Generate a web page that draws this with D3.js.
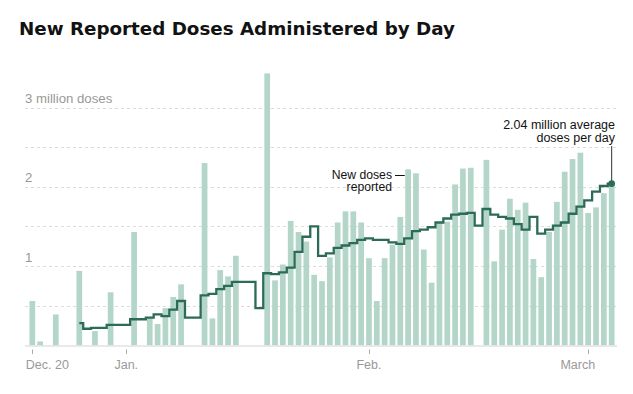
<!DOCTYPE html>
<html>
<head>
<meta charset="utf-8">
<script src="https://cdn.jsdelivr.net/npm/d3@7"></script>
<style>
  html, body { margin: 0; padding: 0; background: #fff; }
  svg { display: block; }
</style>
</head>
<body>
<script>
// ---------------- DATA ----------------
const startDay = "2020-12-20";
const endDay = "2021-03-04";

// New reported doses per day (millions); null = no report that day
const newDoses = [
  0.56, 0.05, null, 0.39, null, null, 0.94, null, 0.18, null, 0.67, null, null,   // Dec 20 - Jan 1
  1.43, null, 0.34, 0.27, 0.47, 0.61, 0.77, null, null, 2.30, 0.34, 0.95, 0.87,   // Jan 2 - Jan 14
  1.13, null, null, null, 3.43, 0.82, 1.02, 1.57, 1.43, 1.31, 0.89, 0.81, 1.11,   // Jan 15 - Jan 27
  1.55, 1.69, 1.69, 1.55, 1.10, 0.56, 1.10, 1.27, 1.62, 2.22, 2.17, 1.21, 0.79,   // Jan 28 - Feb 9
  1.55, 1.56, 2.03, 2.23, 2.24, null, 2.34, 1.06, 1.46, 1.85, 1.71, 1.80, 1.09,   // Feb 10 - Feb 22
  0.86, 1.43, 1.81, 2.19, 2.35, 2.43, 1.67, 1.74, 1.92, 2.05                      // Feb 23 - Mar 4
];

// 7-day average (millions); null before the average starts
const avgDoses = [
  null, null, null, null, null, null, 0.28, 0.21, 0.22, 0.22, 0.26, 0.26, 0.26,   // Dec 20 - Jan 1
  0.33, 0.33, 0.35, 0.39, 0.37, 0.45, 0.56, 0.35, 0.35, 0.63, 0.65, 0.71, 0.75,   // Jan 2 - Jan 14
  0.80, 0.80, 0.80, 0.47, 0.91, 0.90, 0.92, 0.98, 1.18, 1.37, 1.50, 1.13, 1.16,   // Jan 15 - Jan 27
  1.23, 1.26, 1.29, 1.33, 1.35, 1.33, 1.33, 1.30, 1.28, 1.35, 1.44, 1.46, 1.49,   // Jan 28 - Feb 9
  1.55, 1.60, 1.65, 1.66, 1.67, 1.51, 1.72, 1.65, 1.62, 1.60, 1.53, 1.46, 1.62,   // Feb 10 - Feb 22
  1.41, 1.46, 1.51, 1.55, 1.66, 1.75, 1.83, 1.94, 2.01, 2.04                      // Feb 23 - Mar 4
];

const xTickDates = ["2020-12-20", "2021-01-01", "2021-02-01", "2021-03-01"];
const xTickLabels = ["Dec. 20", "Jan.", "Feb.", "March"];

const yGridValues = [0.5, 1, 1.5, 2, 2.5, 3];
const yLabelValues = [1, 2, 3];
const yLabelTexts = ["1", "2", "3 million doses"];

const title = "New Reported Doses Administered by Day";
const annoBars = ["New doses", "reported"];
const annoAvg = ["2.04 million average", "doses per day"];
const annoBarDate = "2021-02-06";

// ---------------- CHART ----------------
const W = 633, H = 394;
const parse = d3.utcParse("%Y-%m-%d");
const fmt = d3.utcFormat("%Y-%m-%d");
const days = d3.utcDay.range(parse(startDay), d3.utcDay.offset(parse(endDay), 1)).map(fmt);

const rows = days.map((d, i) => ({ day: d, value: newDoses[i], avg: avgDoses[i] }));

const x = d3.scaleBand()
  .domain(days)
  .range([28.4, 615.6])
  .paddingInner(0.27)
  .paddingOuter(0.135);
const xc = d => x(d) + x.bandwidth() / 2;

const y = d3.scaleLinear().domain([0, 3]).range([345.4, 107.5]);

const svg = d3.select("body").append("svg")
  .attr("width", W).attr("height", H)
  .style("font-family", "'Liberation Sans', Arial, sans-serif");

// Title
svg.append("text")
  .attr("x", 19).attr("y", 35)
  .style("font-family", "'DejaVu Sans', sans-serif")
  .style("font-weight", 700)
  .style("font-size", "18.3px")
  .attr("fill", "#121212")
  .text(title);

// Gridlines
const gridLeft = 25, gridRight = 617;
svg.append("g").selectAll("line")
  .data(yGridValues)
  .join("line")
  .attr("x1", gridLeft).attr("x2", gridRight)
  .attr("y1", d => Math.round(y(d)) + 0.5).attr("y2", d => Math.round(y(d)) + 0.5)
  .attr("stroke", "#dcdcdc")
  .attr("stroke-width", 1)
  .attr("stroke-dasharray", "3,3");

// Y labels
svg.append("g").selectAll("text")
  .data(yLabelValues)
  .join("text")
  .attr("x", gridLeft)
  .attr("y", d => y(d) - 4.5)
  .attr("fill", "#999")
  .style("font-size", "13.2px")
  .text((d, i) => yLabelTexts[i]);

// Bars
svg.append("g").selectAll("rect")
  .data(rows.filter(r => r.value != null))
  .join("rect")
  .attr("x", r => x(r.day))
  .attr("width", x.bandwidth())
  .attr("y", r => y(r.value))
  .attr("height", r => y(0) - y(r.value))
  .attr("fill", "#b4d6c9");

// Baseline
svg.append("line")
  .attr("x1", gridLeft).attr("x2", gridRight)
  .attr("y1", y(0) + 0.5).attr("y2", y(0) + 0.5)
  .attr("stroke", "#e2e2e2").attr("stroke-width", 1.5);

// X axis ticks and labels
const xAxis = svg.append("g");
xAxis.selectAll("line")
  .data(xTickDates)
  .join("line")
  .attr("x1", d => Math.round(xc(d)) + 0.5).attr("x2", d => Math.round(xc(d)) + 0.5)
  .attr("y1", 349.5).attr("y2", 354)
  .attr("stroke", "#aaa").attr("stroke-width", 1);
xAxis.selectAll("text")
  .data(xTickDates)
  .join("text")
  .attr("x", (d, i) => i === 0 ? xc(d) - 6.5 : (i === xTickDates.length - 1 ? xc(d) + 7 : xc(d)))
  .attr("y", 369)
  .attr("text-anchor", (d, i) => i === 0 ? "start" : (i === xTickDates.length - 1 ? "end" : "middle"))
  .attr("fill", "#999")
  .style("font-size", "12.5px")
  .text((d, i) => xTickLabels[i]);

// Average step line
const line = d3.line()
  .defined(r => r.avg != null)
  .x(r => xc(r.day))
  .y(r => y(r.avg))
  .curve(d3.curveStep);
svg.append("path")
  .datum(rows)
  .attr("d", line)
  .attr("fill", "none")
  .attr("stroke", "#2b6b58")
  .attr("stroke-width", 2.3)
  .attr("stroke-linejoin", "miter");

// Annotation: average
const last = rows[rows.length - 1];
svg.append("line")
  .attr("x1", xc(last.day)).attr("x2", xc(last.day))
  .attr("y1", 146).attr("y2", y(last.avg))
  .attr("stroke", "#333").attr("stroke-width", 1);
svg.append("circle")
  .attr("cx", xc(last.day)).attr("cy", y(last.avg))
  .attr("r", 3.3)
  .attr("fill", "#2b6b58");
svg.append("g").selectAll("text")
  .data(annoAvg)
  .join("text")
  .attr("x", 615)
  .attr("y", (d, i) => 129 + i * 13)
  .attr("text-anchor", "end")
  .attr("fill", "#121212")
  .style("font-size", "12.5px")
  .text(d => d);

// Annotation: new doses
svg.append("g").selectAll("text")
  .data(annoBars)
  .join("text")
  .attr("x", 392)
  .attr("y", (d, i) => 178.5 + i * 12.5)
  .attr("text-anchor", "end")
  .attr("fill", "#121212")
  .style("font-size", "12.2px")
  .text(d => d);
svg.append("line")
  .attr("x1", 395).attr("x2", x(annoBarDate) - 0.5)
  .attr("y1", 175.5).attr("y2", 175.5)
  .attr("stroke", "#121212").attr("stroke-width", 1);
</script>
</body>
</html>
